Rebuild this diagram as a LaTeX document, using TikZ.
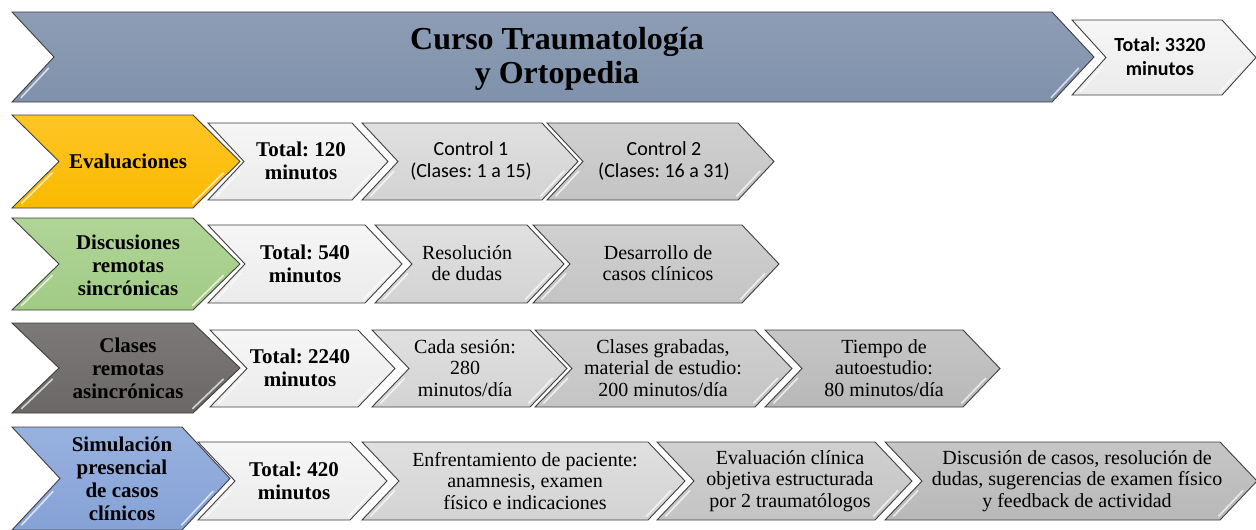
\documentclass[tikz,border=0pt]{standalone}
\usepackage{fontspec}
\setmainfont{Liberation Serif}
\newfontfamily\calibrifont{Carlito}
\usetikzlibrary{calc}
\frenchspacing
\definecolor{outl}{HTML}{3F3F3F}
\definecolor{bannerT}{HTML}{8E9DB5}
\definecolor{bannerB}{HTML}{7F91AB}
\definecolor{yelT}{HTML}{FFC526}
\definecolor{yelB}{HTML}{F9BA00}
\definecolor{grnT}{HTML}{B0D597}
\definecolor{grnB}{HTML}{A2CB86}
\definecolor{drkT}{HTML}{7E7979}
\definecolor{drkB}{HTML}{6C6767}
\definecolor{bluT}{HTML}{97B1DF}
\definecolor{bluB}{HTML}{86A2D6}
\definecolor{whT}{HTML}{F6F6F6}
\definecolor{whB}{HTML}{EBEBEB}
\definecolor{g1T}{HTML}{E0E0E0}
\definecolor{g1B}{HTML}{D3D3D3}
\definecolor{g2T}{HTML}{D0D0D0}
\definecolor{g2B}{HTML}{C4C4C4}
\definecolor{g3T}{HTML}{C6C6C6}
\definecolor{g3B}{HTML}{B8B8B8}
\tikzset{
  chevline/.style={draw=outl, line width=0.9pt, line join=miter},
  glint/.style={draw=white, line width=1.6pt, opacity=0.7, line cap=round},
  lbl/.style={align=center, font=\bfseries\fontsize{21}{23}\selectfont, inner sep=0pt},
  tot/.style={align=center, font=\bfseries\fontsize{21}{23}\selectfont, inner sep=0pt},
  txt/.style={align=center, font=\fontsize{20}{21.5}\selectfont, inner sep=0pt},
  ctxt/.style={align=center, font=\calibrifont\fontsize{20}{22}\selectfont, inner sep=0pt},
}
% #1 left x, #2 right corner x, #3 top y, #4 bottom y, #5 depth, #6 top colour, #7 bottom colour
\newcommand\chevbox[7]{%
  \path[chevline, top color=#6, bottom color=#7] (#1,#3) -- (#2,#3) -- ({#2+#5},{(#3+#4)/2}) -- (#2,#4) -- (#1,#4) -- ({#1+#5},{(#3+#4)/2}) -- cycle;
  \draw[glint] ($({#1+#5},{(#3+#4)/2})!0.25!(#1,#4)+(5,0)$) -- ($({#1+#5},{(#3+#4)/2})!0.9!(#1,#4)+(5,0)$);
  \draw[glint] ($({#2+#5},{(#3+#4)/2})!0.25!(#2,#4)+(-5,0)$) -- ($({#2+#5},{(#3+#4)/2})!0.9!(#2,#4)+(-5,0)$);
}
\begin{document}
\begin{tikzpicture}[x=1pt,y=-1pt]
\useasboundingbox (0,0) rectangle (1256,530);
\fill[white] (0,0) rectangle (1256,530);
% header
\chevbox{1072}{1222}{20}{95}{34}{whT}{whB}
\chevbox{12}{1052}{12}{102}{42}{bannerT}{bannerB}
\node[font=\bfseries\fontsize{32}{34}\selectfont, align=center, inner sep=0pt] (title) at (557,59) {Curso Traumatología\\y Ortopedia};
\node[font=\calibrifont\bfseries\fontsize{20}{24}\selectfont, align=center, inner sep=0pt] (total) at (1160,57) {Total: 3320\\minutos};
% row 1
\chevbox{547}{738}{123}{200}{36}{g2T}{g2B}
\chevbox{362}{542}{123}{200}{36}{g1T}{g1B}
\chevbox{208}{352}{123}{200}{36}{whT}{whB}
\chevbox{12}{193}{115}{208}{47}{yelT}{yelB}
\node[lbl] (ev) at (128,161) {Evaluaciones};
\node[tot] (evtot) at (301,161) {Total: 120\\minutos};
\node[ctxt] (evc1) at (471,161) {Control 1\\(Clases: 1 a 15)};
\node[ctxt] (evc2) at (664,161) {Control 2\\(Clases: 16 a 31)};
% row 2
\chevbox{533}{742}{225}{303}{37}{g2T}{g2B}
\chevbox{375}{527}{225}{303}{37}{g1T}{g1B}
\chevbox{208}{365}{225}{303}{37}{whT}{whB}
\chevbox{12}{193}{218}{310}{47}{grnT}{grnB}
\node[lbl] (ds) at (128,265) {Discusiones\\remotas\\sincrónicas};
\node[tot] (dstot) at (305,264) {Total: 540\\minutos};
\node[txt] (dsres) at (467,263) {Resolución\\de dudas};
\node[txt] (dsdes) at (658,263) {Desarrollo de\\casos clínicos};
% row 3
\chevbox{765}{963}{330}{407}{37}{g3T}{g3B}
\chevbox{535}{755}{330}{407}{37}{g2T}{g2B}
\chevbox{372}{530}{330}{407}{37}{g1T}{g1B}
\chevbox{210}{358}{330}{407}{37}{whT}{whB}
\chevbox{12}{193}{323}{413}{47}{drkT}{drkB}
\node[lbl] (cl) at (128,368) {Clases\\remotas\\asincrónicas};
\node[tot] (cltot) at (300,368) {Total: 2240\\minutos};
\node[txt] (clses) at (465,368) {Cada sesión:\\280\\minutos/día};
\node[txt] (clgra) at (663,368) {Clases grabadas,\\material de estudio:\\200 minutos/día};
\node[txt] (claut) at (884,368) {Tiempo de\\autoestudio:\\80 minutos/día};
% row 4
\chevbox{885}{1220}{442}{520}{37}{g3T}{g3B}
\chevbox{657}{875}{442}{520}{37}{g2T}{g2B}
\chevbox{362}{648}{442}{520}{37}{g1T}{g1B}
\chevbox{198}{350}{442}{520}{37}{whT}{whB}
\chevbox{12}{182}{427}{530}{48}{bluT}{bluB}
\node[lbl] (si) at (122,479) {Simulación\\presencial\\de casos\\clínicos};
\node[tot] (sitot) at (294,481) {Total: 420\\minutos};
\node[txt] (sienf) at (525,481) {Enfrentamiento de paciente:\\anamnesis, examen\\físico e indicaciones};
\node[txt] (sieva) at (790,481) {Evaluación clínica\\objetiva estructurada\\por 2 traumatólogos};
\node[txt] (sidis) at (1077,481) {Discusión de casos, resolución de\\dudas, sugerencias de examen físico\\y feedback de actividad};
\end{tikzpicture}
\end{document}
